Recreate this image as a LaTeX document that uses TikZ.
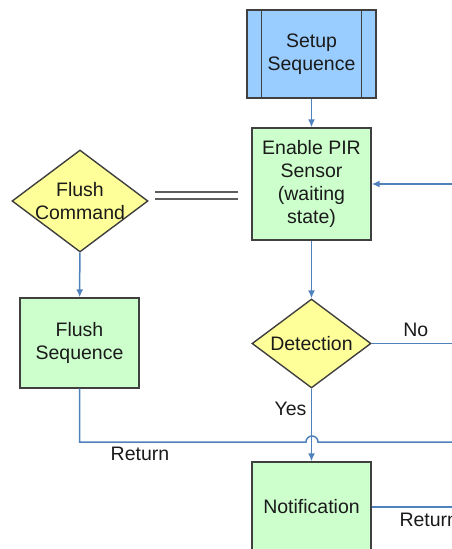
\documentclass[tikz,border=0pt]{standalone}
\usepackage{fontspec}
\setmainfont{Liberation Sans}
\usepackage{tikz}
\usetikzlibrary{calc,positioning,shapes,arrows,arrows.meta}
\definecolor{boxgreen}{HTML}{CCFFCC}
\definecolor{boxyellow}{HTML}{FFFF99}
\definecolor{boxblue}{HTML}{99CCFF}
\definecolor{boxline}{HTML}{404040}
\definecolor{linkblue}{HTML}{4F81BD}
\definecolor{txtgray}{HTML}{1A1A1A}
\tikzstyle{process} = [rectangle, draw=boxline, line width=1.4pt, fill=boxgreen,
    align=center, inner sep=0pt, text=txtgray, font=\fontsize{19.5}{23}\selectfont]
\tikzstyle{subproc} = [process, fill=boxblue]
\tikzstyle{decision} = [diamond, draw=boxline, line width=1.4pt, fill=boxyellow, inner sep=0pt]
\tikzstyle{tag} = [text=txtgray, align=center, font=\fontsize{19.5}{23}\selectfont]
\tikzstyle{link} = [line width=1.5pt, draw=linkblue]
\tikzstyle{arrow} = [link, ->, >={Latex[length=8pt,width=7pt]}]

\begin{document}
\begin{tikzpicture}[x=1pt, y=-1pt]
        \useasboundingbox (0,0) rectangle (452,549);
        \clip (0,0) rectangle (452,549);
        \node[subproc, minimum width=129pt, minimum height=88pt] (Setup) at (311.5,54) {Setup\\Sequence}; %setup
        \draw[line width=1.4pt, boxline] ([xshift=15pt]Setup.north west) -- ([xshift=15pt]Setup.south west);
        \draw[line width=1.4pt, boxline] ([xshift=-15pt]Setup.north east) -- ([xshift=-15pt]Setup.south east);
        \node[process, minimum width=119pt, minimum height=112pt] (Enable) at (311.5,184) {Enable PIR\\Sensor\\(waiting\\state)}; %waiting state
        \node[decision, minimum width=136pt, minimum height=102pt,
            label={[tag]center:Flush\\Command}] (FlushCmd) at (80,201) {}; %flush command
        \node[process, minimum width=119pt, minimum height=90pt] (FlushSeq) at (79.5,343) {Flush\\Sequence}; %flush sequence
        \node[decision, minimum width=119pt, minimum height=89pt,
            label={[tag]center:Detection}] (Detect) at (311.5,343.5) {}; %detection
        \node[process, minimum width=119pt, minimum height=90pt] (Notify) at (311.5,507) {Notification}; %notification
        \coordinate (LoopIn) at (460,184);
        \coordinate (NoEnd) at (460,343.5);
        \coordinate (Hop) at (306,442);
        \coordinate (RetEnd) at (460,442);
        \coordinate (NotifyEnd) at (460,507);
        \coordinate (DblA) at (155,195.5);
        \coordinate (DblB) at (238,195.5);
        \draw[arrow] (Setup) -- (Enable);
        \draw[arrow] (LoopIn) -- (Enable);
        \draw[arrow] (Enable) -- (Detect);
        \draw[arrow] (FlushCmd) -- (FlushSeq);
        \draw[line width=1.7pt, boxline!85, double=white, double distance=5.3pt] (DblA) -- (DblB);
        \draw[link] (Detect.east) -- (NoEnd) node[tag, pos=0.5, above=3pt] {No};
        \draw[arrow] (Detect) -- (Notify) node[tag, pos=0.28, left=1pt] {Yes};
        \draw[link] (FlushSeq.south) |- (Hop) arc (180:0:6pt) -- (RetEnd);
        \node[tag] (RetLabel) at (140,454) {Return};
        \draw[link] (Notify.east) -- (NotifyEnd);
        \node[tag, anchor=west] (NotifyLabel) at (396,520) {Return};
    \end{tikzpicture}
\end{document}
